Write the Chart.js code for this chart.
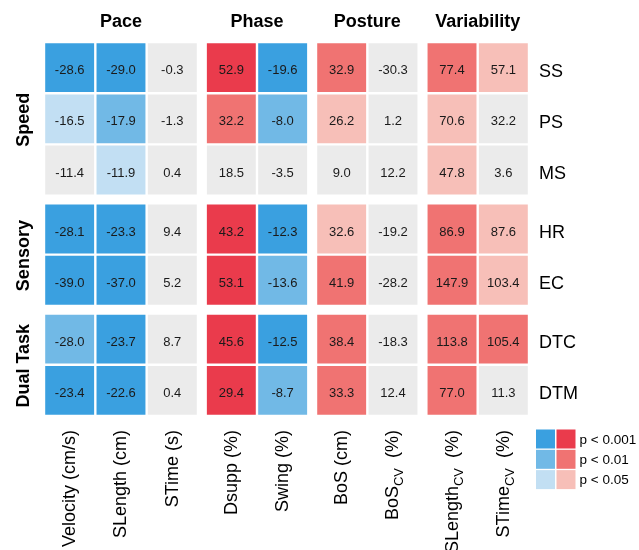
<!DOCTYPE html>
<html><head><meta charset="utf-8">
<script src="https://cdn.jsdelivr.net/npm/chart.js@4.4.1/dist/chart.umd.min.js"></script>
<style>html,body{margin:0;padding:0;background:#fff}#wrap{width:639px;height:550px;position:relative}</style>
</head><body><div id="wrap"><canvas id="c"></canvas></div>
<script>
// ---- data ----
const colGroups = ['Pace', 'Phase', 'Posture', 'Variability'];
const colGroupSizes = [3, 2, 2, 2];
const colNames = ['Velocity', 'SLength', 'STime', 'Dsupp', 'Swing', 'BoS', 'BoS', 'SLength', 'STime'];
const colSubs  = ['', '', '', '', '', '', 'CV', 'CV', 'CV'];
const colUnits = ['(cm/s)', '(cm)', '(s)', '(%)', '(%)', '(cm)', '(%)', '(%)', '(%)'];
const rowGroups = ['Speed', 'Sensory', 'Dual Task'];
const rowGroupSizes = [3, 2, 2];
const rowNames = ['SS', 'PS', 'MS', 'HR', 'EC', 'DTC', 'DTM'];
// percent change values, one row per condition
const values = [
  [-28.6, -29.0, -0.3, 52.9, -19.6, 32.9, -30.3, 77.4, 57.1],
  [-16.5, -17.9, -1.3, 32.2, -8.0, 26.2, 1.2, 70.6, 32.2],
  [-11.4, -11.9, 0.4, 18.5, -3.5, 9.0, 12.2, 47.8, 3.6],
  [-28.1, -23.3, 9.4, 43.2, -12.3, 32.6, -19.2, 86.9, 87.6],
  [-39.0, -37.0, 5.2, 53.1, -13.6, 41.9, -28.2, 147.9, 103.4],
  [-28.0, -23.7, 8.7, 45.6, -12.5, 38.4, -18.3, 113.8, 105.4],
  [-23.4, -22.6, 0.4, 29.4, -8.7, 33.3, 12.4, 77.0, 11.3]
];
// significance level: 3 = p<0.001, 2 = p<0.01, 1 = p<0.05, 0 = n.s.
const signif = [
  [3, 3, 0, 3, 3, 2, 0, 2, 1],
  [1, 2, 0, 2, 2, 1, 0, 1, 0],
  [0, 1, 0, 0, 0, 0, 0, 1, 0],
  [3, 3, 0, 3, 3, 1, 0, 2, 1],
  [3, 3, 0, 3, 2, 2, 0, 2, 1],
  [2, 3, 0, 3, 3, 2, 0, 2, 2],
  [3, 3, 0, 3, 2, 2, 0, 2, 0]
];
const pLabels = ['p < 0.001', 'p < 0.01', 'p < 0.05'];

// ---- styles ----
const GREY = '#ebebeb';
const BLUES = [GREY, '#c2dff3', '#71b9e6', '#3aa0e0'];
const REDS  = [GREY, '#f7bfb8', '#f07372', '#ea3b4c'];
const FONT = "'Liberation Sans', Arial, Helvetica, sans-serif";
const GAP = 0.15;

function positions(sizes) {
  const out = []; let k = 0;
  sizes.forEach((n, g) => { for (let i = 0; i < n; i++) { out.push(k + g * GAP); k++; } });
  return out;
}
const colPos = positions(colGroupSizes);
const rowPos = positions(rowGroupSizes);

const points = [];
rowNames.forEach((r, ri) => colNames.forEach((c, ci) => {
  points.push({ x: colPos[ci], y: rowPos[ri], v: values[ri][ci], s: signif[ri][ci] });
}));

function cellColor(p) {
  if (!p) return GREY;
  return p.v < 0 ? BLUES[p.s] : REDS[p.s];
}
function cellRadius(ctx) {
  const sx = ctx.chart.scales.x;
  if (!sx) return 34;
  const unit = Math.abs(sx.getPixelForValue(1) - sx.getPixelForValue(0));
  return (unit - 2.4) / Math.SQRT2;
}

const textPlugin = {
  id: 'heatText',
  afterDatasetsDraw(chart) {
    const c = chart.ctx;
    const sx = chart.scales.x, sy = chart.scales.y;
    const meta = chart.getDatasetMeta(0);
    c.save();
    c.fillStyle = '#1a1a1a';
    // cell values
    c.font = '13px ' + FONT;
    c.textAlign = 'center';
    c.textBaseline = 'alphabetic';
    meta.data.forEach((el, i) => {
      c.fillText(points[i].v.toFixed(1), el.x, el.y + 6.5);
    });
    // row labels (right)
    c.fillStyle = '#000';
    c.font = '18px ' + FONT;
    c.textAlign = 'left';
    rowNames.forEach((r, ri) => c.fillText(r, 539, sy.getPixelForValue(rowPos[ri]) + 9));
    // column group headers
    c.font = 'bold 18px ' + FONT;
    c.textAlign = 'center';
    let k = 0;
    colGroups.forEach((g, gi) => {
      const a = colPos[k], b = colPos[k + colGroupSizes[gi] - 1];
      c.fillText(g, sx.getPixelForValue((a + b) / 2), 27);
      k += colGroupSizes[gi];
    });
    // row group labels (rotated)
    k = 0;
    rowGroups.forEach((g, gi) => {
      const a = rowPos[k], b = rowPos[k + rowGroupSizes[gi] - 1];
      const cy = sy.getPixelForValue((a + b) / 2) + 1;
      c.save();
      c.translate(29, cy);
      c.rotate(-Math.PI / 2);
      c.textAlign = 'center';
      c.fillText(g, 0, 0);
      c.restore();
      k += rowGroupSizes[gi];
    });
    // column labels (rotated, with subscripts)
    colNames.forEach((n, ci) => {
      const cx = sx.getPixelForValue(colPos[ci]);
      c.save();
      c.translate(cx + 5.5, 430);
      c.rotate(-Math.PI / 2);
      c.textAlign = 'left';
      c.font = '18px ' + FONT;
      const wb = c.measureText(n).width;
      const unit = (colSubs[ci] ? '  ' : ' ') + colUnits[ci];
      const wu = c.measureText(unit).width;
      c.font = '13px ' + FONT;
      const ws = colSubs[ci] ? c.measureText(colSubs[ci]).width : 0;
      let x0 = -(wb + ws + wu);
      c.font = '18px ' + FONT;
      c.fillText(n, x0, 0);
      if (colSubs[ci]) {
        c.font = '13px ' + FONT;
        c.fillText(colSubs[ci], x0 + wb, 5);
      }
      c.font = '18px ' + FONT;
      c.fillText(unit, x0 + wb + ws, 0);
      c.restore();
    });
    // significance legend
    const lx = 536, ly = 429.5, sq = 19, step = 20.3;
    pLabels.forEach((lab, i) => {
      const lvl = 3 - i;
      const y = ly + i * step;
      c.fillStyle = BLUES[lvl];
      c.fillRect(lx, y, sq, sq);
      c.fillStyle = REDS[lvl];
      c.fillRect(lx + sq + 1.5, y, sq, sq);
      c.fillStyle = '#000';
      c.font = '13.5px ' + FONT;
      c.textAlign = 'left';
      c.fillText(lab, 579.5, y + sq / 2 + 4.8);
    });
    c.restore();
  }
};

new Chart(document.getElementById('c'), {
  type: 'scatter',
  data: {
    datasets: [{
      data: points,
      pointStyle: 'rect',
      pointRadius: cellRadius,
      pointHoverRadius: cellRadius,
      pointBorderWidth: 0,
      pointBackgroundColor: ctx => cellColor(ctx.raw),
      clip: false
    }]
  },
  options: {
    responsive: true,
    maintainAspectRatio: false,
    animation: false,
    events: [],
    layout: { padding: { left: 44, right: 110, top: 42, bottom: 134 } },
    scales: {
      x: { type: 'linear', display: false, min: -0.5, max: colPos[colPos.length - 1] + 0.5 },
      y: { type: 'linear', display: false, reverse: true, min: -0.5, max: rowPos[rowPos.length - 1] + 0.5 }
    },
    plugins: { legend: { display: false }, tooltip: { enabled: false } }
  },
  plugins: [textPlugin]
});
</script>
</body></html>
